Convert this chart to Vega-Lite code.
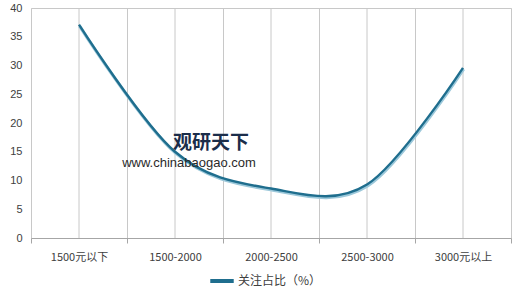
{
  "$schema": "https://vega.github.io/schema/vega-lite/v6.json",
  "autosize": "none",
  "width": 480,
  "height": 230,
  "padding": {"left": 31, "top": 8, "right": 9, "bottom": 52},
  "background": "white",
  "config": {
    "view": {"stroke": "#c8c8c8", "strokeWidth": 1},
    "font": "Liberation Sans"
  },
  "datasets": {
    "main": [
      {"cat": "1500元以下", "v": 37.1, "series": "关注占比（%）"},
      {"cat": "1500-2000", "v": 15.0, "series": "关注占比（%）"},
      {"cat": "2000-2500", "v": 8.6, "series": "关注占比（%）"},
      {"cat": "2500-3000", "v": 9.3, "series": "关注占比（%）"},
      {"cat": "3000元以上", "v": 29.6, "series": "关注占比（%）"}
    ],
    "wm": [
      {"cat": "1500-2000", "v": 16.6, "t": "观研天下", "kind": "brand"},
      {"cat": "1500-2000", "v": 13.0, "t": "www.chinabaogao.com", "kind": "url"}
    ]
  },
  "encoding": {
    "x": {
      "field": "cat", "type": "nominal", "sort": null,
      "scale": {"paddingInner": 0, "paddingOuter": 0},
      "axis": {
        "title": null, "labelAngle": 0, "tickBand": "extent", "grid": true,
        "gridColor": "#c8c8c8", "domainColor": "#a6a6a6", "tickColor": "#a6a6a6",
        "tickSize": 5, "labelPadding": 8, "labelFontSize": 11,
        "labelColor": "#404040", "labelFont": "Noto Sans CJK SC"
      }
    }
  },
  "layer": [
    {
      "data": {"name": "main"},
      "mark": {"type": "rule", "color": "#c8c8c8", "strokeWidth": 1},
      "encoding": {}
    },
    {
      "data": {"name": "main"},
      "mark": {"type": "line", "interpolate": "cardinal", "tension": 0, "color": "#9cc8da", "strokeWidth": 3.2, "yOffset": 1.4, "xOffset": 0.6},
      "encoding": {
        "y": {
          "field": "v", "type": "quantitative",
          "scale": {"domain": [0, 40]},
          "axis": {
            "title": null, "values": [0, 5, 10, 15, 20, 25, 30, 35, 40],
            "labelOverlap": false,
            "grid": false, "domain": false, "ticks": false, "labelPadding": 9,
            "labelFontSize": 11, "labelColor": "#404040"
          }
        }
      }
    },
    {
      "data": {"name": "main"},
      "mark": {"type": "line", "interpolate": "cardinal", "tension": 0, "strokeWidth": 2.4},
      "encoding": {
        "y": {
          "field": "v", "type": "quantitative",
          "scale": {"domain": [0, 40]},
          "axis": {
            "title": null, "values": [0, 5, 10, 15, 20, 25, 30, 35, 40],
            "labelOverlap": false,
            "grid": false, "domain": false, "ticks": false, "labelPadding": 9,
            "labelFontSize": 11, "labelColor": "#404040"
          }
        },
        "color": {
          "field": "series", "type": "nominal",
          "scale": {"range": ["#1f6e8e"]},
          "legend": {
            "title": null, "orient": "none", "legendX": 177, "legendY": 259,
            "symbolType": "stroke", "symbolStrokeWidth": 4, "symbolSize": 550,
            "labelFontSize": 12, "labelColor": "#404040", "labelFont": "Noto Sans CJK SC",
            "labelOffset": 2
          }
        }
      }
    },
    {
      "data": {"name": "wm"},
      "transform": [{"filter": "datum.kind === 'brand'"}],
      "mark": {"type": "text", "font": "Noto Sans CJK SC", "fontWeight": "bold", "fontSize": 19, "color": "#1b2d4a", "dx": 36, "align": "center", "baseline": "middle"},
      "encoding": {
        "y": {
          "field": "v", "type": "quantitative",
          "axis": {
            "title": null, "values": [0, 5, 10, 15, 20, 25, 30, 35, 40],
            "labelOverlap": false,
            "grid": false, "domain": false, "ticks": false, "labelPadding": 9,
            "labelFontSize": 11, "labelColor": "#404040"
          }
        },
        "text": {"field": "t"}
      }
    },
    {
      "data": {"name": "wm"},
      "transform": [{"filter": "datum.kind === 'url'"}],
      "mark": {"type": "text", "font": "Liberation Sans", "fontSize": 13, "color": "#2a2a2a", "dx": 14, "align": "center", "baseline": "middle"},
      "encoding": {
        "y": {
          "field": "v", "type": "quantitative",
          "axis": {
            "title": null, "values": [0, 5, 10, 15, 20, 25, 30, 35, 40],
            "labelOverlap": false,
            "grid": false, "domain": false, "ticks": false, "labelPadding": 9,
            "labelFontSize": 11, "labelColor": "#404040"
          }
        },
        "text": {"field": "t"}
      }
    }
  ]
}
